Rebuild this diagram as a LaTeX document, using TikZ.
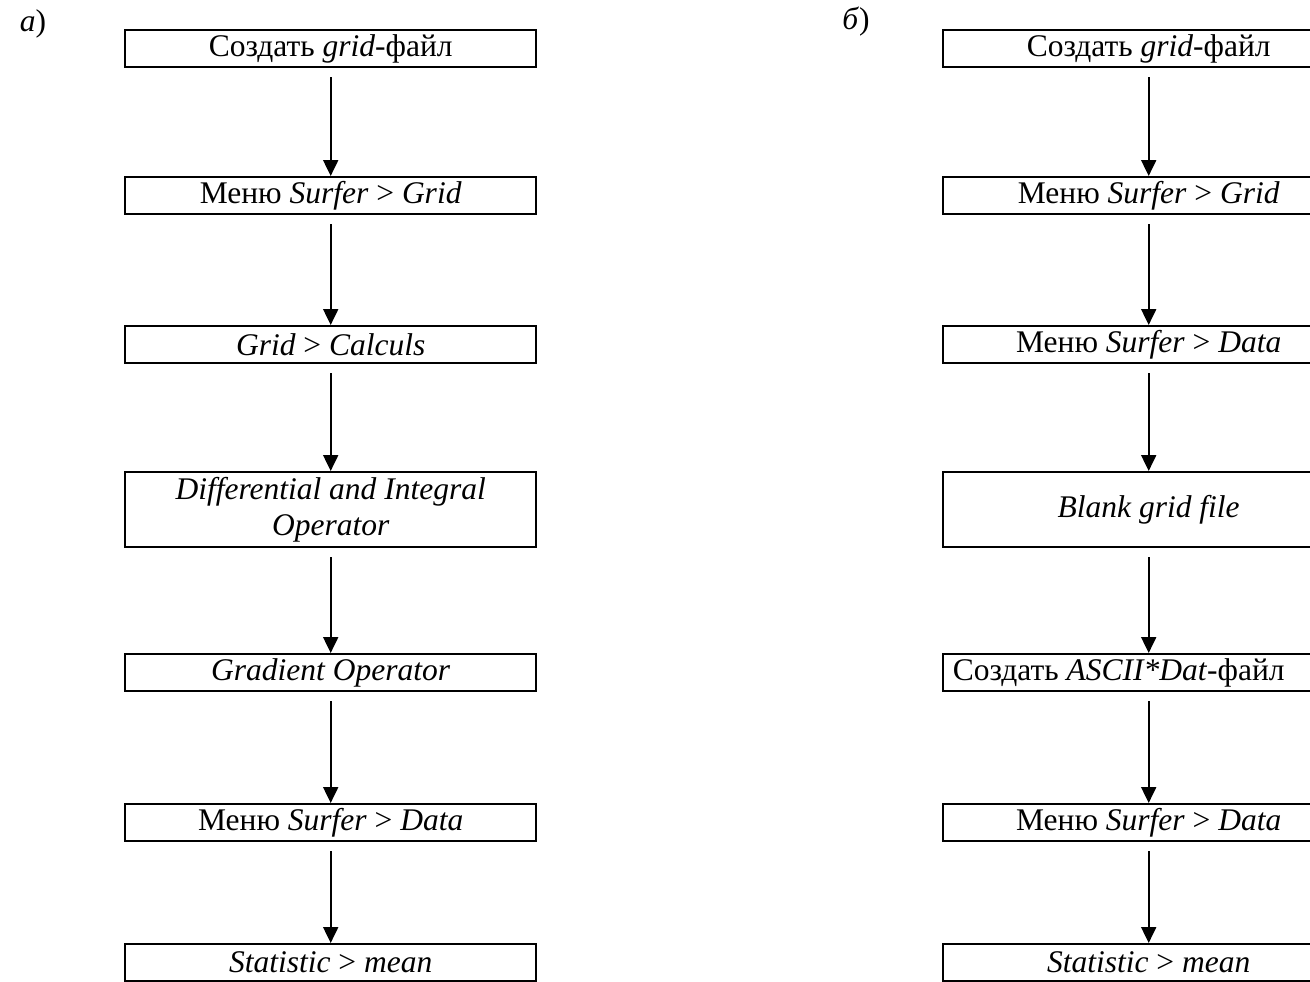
\documentclass[tikz,border=0pt]{standalone}
\usepackage{fontspec}
\setmainfont{Liberation Serif}
\usetikzlibrary{arrows.meta}
\begin{document}
\begin{tikzpicture}[x=1pt,y=-1pt,
  box/.style={draw, line width=2.4pt, minimum width=411pt, minimum height=37pt,
    inner sep=0pt, font=\fontsize{31.5}{36}\selectfont, align=center, anchor=north west},
  tallbox/.style={minimum height=75pt},
  lbl/.style={font=\fontsize{31.5}{36}\selectfont, inner sep=0pt},
  conn/.style={line width=2pt, -{Triangle[length=16pt,width=15pt]}, shorten <=9pt}
]
\useasboundingbox (0,0) rectangle (1310,982);
\fill[white] (0,0) rectangle (1310,982);
\clip (0,0) rectangle (1310,982);

% labels
\node[lbl] (la) at (33,24) {\textit{а})};
\node[lbl] (lb) at (856,22) {\textit{б})};

% left column
\node[box] (L1) at (124,29) {Создать \textit{grid}-файл};
\node[box] (L2) at (124,176) {Меню \textit{Surfer} > \textit{Grid}};
\node[box] (L3) at (124,325) {\textit{Grid} > \textit{Calculs}};
\node[box,tallbox] (L4) at (124,471) {\textit{Differential and Integral}\\\textit{Operator}};
\node[box] (L5) at (124,653) {\textit{Gradient Operator}};
\node[box] (L6) at (124,803) {Меню \textit{Surfer} > \textit{Data}};
\node[box] (L7) at (124,943) {\textit{Statistic} > \textit{mean}};

% right column
\node[box] (R1) at (942,29) {Создать \textit{grid}-файл};
\node[box] (R2) at (942,176) {Меню \textit{Surfer} > \textit{Grid}};
\node[box] (R3) at (942,325) {Меню \textit{Surfer} > \textit{Data}};
\node[box,tallbox] (R4) at (942,471) {\textit{Blank grid file}};
\node[box] (R5) at (942,653) {\hspace*{-60pt}Создать \textit{ASCII*Dat}-файл};
\node[box] (R6) at (942,803) {Меню \textit{Surfer} > \textit{Data}};
\node[box] (R7) at (942,943) {\textit{Statistic} > \textit{mean}};

% connectors
\draw[conn] (L1.south) -- (L2.north);
\draw[conn] (L2.south) -- (L3.north);
\draw[conn] (L3.south) -- (L4.north);
\draw[conn] (L4.south) -- (L5.north);
\draw[conn] (L5.south) -- (L6.north);
\draw[conn] (L6.south) -- (L7.north);

\draw[conn] (R1.south) -- (R2.north);
\draw[conn] (R2.south) -- (R3.north);
\draw[conn] (R3.south) -- (R4.north);
\draw[conn] (R4.south) -- (R5.north);
\draw[conn] (R5.south) -- (R6.north);
\draw[conn] (R6.south) -- (R7.north);
\end{tikzpicture}
\end{document}
